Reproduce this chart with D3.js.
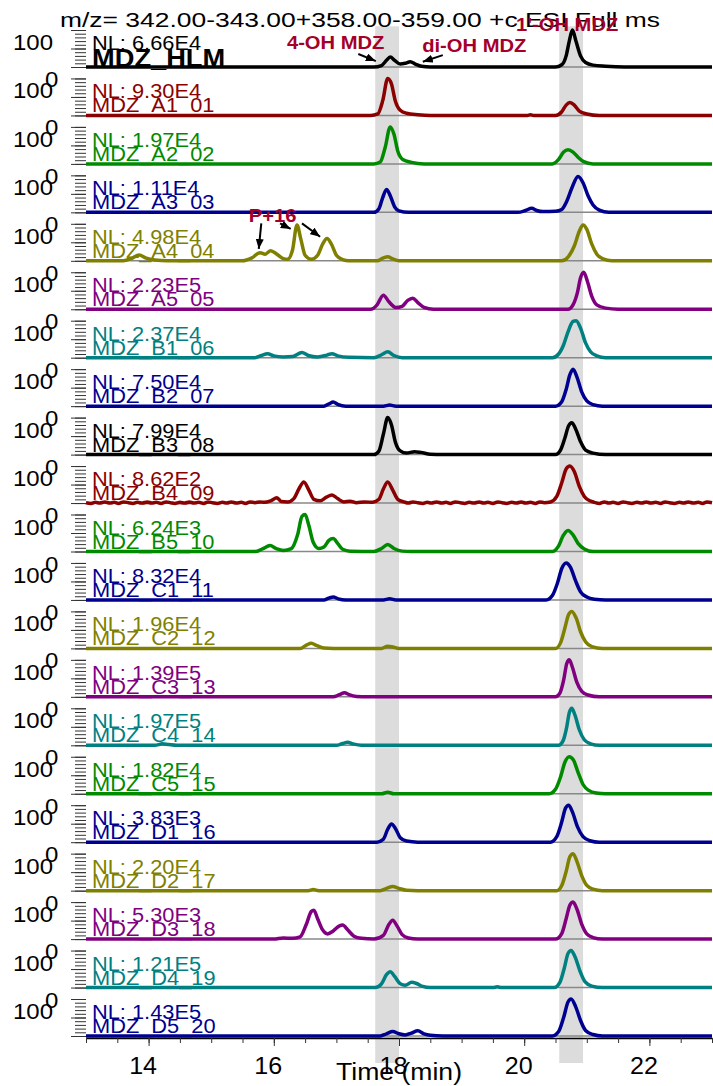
<!DOCTYPE html>
<html lang="en">
<head>
<meta charset="UTF-8">
<title>MDZ chromatograms</title>
<script src="https://d3js.org/d3.v7.min.js"></script>
<style>
  * { margin: 0; padding: 0; }
  body { background: #fff; }
  svg { display: block; font-family: "Liberation Sans", Arial, sans-serif; }
</style>
</head>
<body>
<script>
// ---- data ----
const samples = ["MDZ_HLM", "MDZ_A1_01", "MDZ_A2_02", "MDZ_A3_03", "MDZ_A4_04", "MDZ_A5_05",
  "MDZ_B1_06", "MDZ_B2_07", "MDZ_B3_08", "MDZ_B4_09", "MDZ_B5_10", "MDZ_C1_11", "MDZ_C2_12",
  "MDZ_C3_13", "MDZ_C4_14", "MDZ_C5_15", "MDZ_D1_16", "MDZ_D2_17", "MDZ_D3_18", "MDZ_D4_19", "MDZ_D5_20"];
const nlLabels = ["6.66E4", "9.30E4", "1.97E4", "1.11E4", "4.98E4", "2.23E5", "2.37E4", "7.50E4",
  "7.99E4", "8.62E2", "6.24E3", "8.32E4", "1.96E4", "1.39E5", "1.97E5", "1.82E4", "3.83E3",
  "2.20E4", "5.30E3", "1.21E5", "1.43E5"];
const timeLabels = [14, 16, 18, 20, 22];
const bands = [[17.62, 18.0], [20.56, 20.94]];

// [time (min), relative abundance %]
const traces = [
  [[13,0],[17.6,0],[17.72,4],[17.8,18],[17.86,27],[17.93,18],[18.02,8],[18.1,10],[18.18,14],[18.26,8],[18.36,2],[18.5,0],[20.5,0],[20.6,6],[20.67,30],[20.72,70],[20.77,100],[20.83,68],[20.9,30],[20.98,12],[21.1,5],[21.3,2],[21.6,0],[23,0]],
  [[13,0],[17.55,0],[17.66,4],[17.74,40],[17.82,100],[17.88,85],[17.94,40],[18.02,14],[18.12,6],[18.3,2],[18.5,0],[20.05,0],[20.1,2],[20.15,0],[20.5,0],[20.6,10],[20.67,28],[20.73,35],[20.8,28],[20.88,12],[21.0,4],[21.2,0],[23,0]],
  [[13,0],[17.6,0],[17.7,5],[17.78,45],[17.86,100],[17.92,80],[17.98,35],[18.06,12],[18.2,4],[18.4,0],[20.45,0],[20.55,12],[20.63,32],[20.7,38],[20.78,32],[20.86,18],[20.95,6],[21.1,0],[23,0]],
  [[13,0],[17.6,0],[17.68,10],[17.74,40],[17.8,62],[17.86,45],[17.93,15],[18.0,4],[18.15,0],[19.9,0],[20.02,5],[20.12,11],[20.2,5],[20.3,2],[20.5,3],[20.6,8],[20.68,30],[20.76,65],[20.86,97],[20.94,80],[21.02,45],[21.1,20],[21.2,6],[21.35,0],[23,0]],
  [[13,0],[13.6,0],[13.72,6],[13.85,16],[13.95,8],[14.1,2],[14.3,0],[15.5,0],[15.65,8],[15.78,22],[15.86,18],[15.95,27],[16.05,18],[16.15,6],[16.22,4],[16.3,30],[16.37,97],[16.43,60],[16.5,15],[16.6,4],[16.7,15],[16.78,45],[16.85,60],[16.92,45],[17.0,15],[17.1,3],[17.2,0],[17.65,0],[17.75,8],[17.82,11],[17.9,5],[18.0,0],[20.6,0],[20.7,10],[20.8,40],[20.88,80],[20.94,97],[21.0,85],[21.08,45],[21.16,18],[21.26,5],[21.4,0],[23,0]],
  [[13,0],[17.55,0],[17.65,12],[17.75,38],[17.84,20],[17.95,5],[18.05,8],[18.14,24],[18.22,30],[18.3,18],[18.4,5],[18.55,0],[20.7,0],[20.78,12],[20.85,45],[20.9,85],[20.95,100],[21.01,75],[21.08,35],[21.16,12],[21.3,3],[21.5,0],[23,0]],
  [[13,0],[15.7,0],[15.8,6],[15.9,11],[16.0,5],[16.15,2],[16.3,3],[16.45,14],[16.55,6],[16.7,2],[16.85,7],[16.93,11],[17.02,5],[17.2,1],[17.6,0],[17.72,8],[17.82,16],[17.92,6],[18.05,0],[20.45,0],[20.55,10],[20.63,35],[20.7,70],[20.78,98],[20.83,100],[20.9,80],[20.98,40],[21.06,16],[21.16,5],[21.3,0],[23,0]],
  [[13,0],[16.8,0],[16.88,6],[16.95,11],[17.02,5],[17.15,0],[17.75,0],[17.85,3],[17.95,0],[20.5,0],[20.6,12],[20.67,45],[20.73,85],[20.78,100],[20.84,80],[20.92,38],[21.0,14],[21.1,4],[21.25,0],[23,0]],
  [[13,0],[17.6,0],[17.68,10],[17.75,55],[17.82,100],[17.88,80],[17.94,35],[18.02,10],[18.12,4],[18.25,8],[18.35,6],[18.5,1],[18.7,0],[20.5,0],[20.58,12],[20.65,45],[20.71,78],[20.76,86],[20.82,70],[20.9,35],[20.98,12],[21.1,4],[21.3,0],[23,0]],
  [[13,1],[13.08,-1],[13.15,2],[13.22,0],[13.3,3],[13.38,0],[13.45,2],[13.52,-1],[13.6,3],[13.68,1],[13.75,-1],[13.82,2],[13.9,0],[13.98,3],[14.05,0],[14.12,2],[14.2,-1],[14.28,3],[14.35,1],[14.42,-1],[14.5,2],[14.58,0],[14.65,3],[14.72,0],[14.8,2],[14.88,-1],[14.95,3],[15.02,1],[15.1,-1],[15.18,2],[15.25,0],[15.32,3],[15.4,0],[15.48,2],[15.55,-1],[15.62,3],[15.7,1],[15.78,3],[15.85,2],[15.95,6],[16.05,14],[16.12,4],[16.22,3],[16.32,12],[16.4,38],[16.48,57],[16.56,35],[16.64,10],[16.74,6],[16.84,16],[16.93,22],[17.02,12],[17.12,3],[17.22,5],[17.32,1],[17.45,3],[17.58,2],[17.68,10],[17.75,38],[17.82,57],[17.9,35],[17.98,10],[18.08,3],[18.15,0],[18.22,3],[18.3,1],[18.38,-1],[18.45,2],[18.52,0],[18.6,3],[18.68,0],[18.75,2],[18.82,-1],[18.9,3],[18.98,1],[19.05,-1],[19.12,2],[19.2,0],[19.28,3],[19.35,0],[19.42,2],[19.5,-1],[19.58,3],[19.65,1],[19.72,-1],[19.8,2],[19.88,0],[19.95,3],[20.02,0],[20.1,2],[20.18,-1],[20.25,3],[20.32,1],[20.42,3],[20.52,18],[20.6,55],[20.67,92],[20.73,100],[20.8,85],[20.88,45],[20.96,18],[21.05,6],[21.12,2],[21.2,-1],[21.28,3],[21.35,0],[21.42,2],[21.5,-1],[21.58,3],[21.65,1],[21.72,-1],[21.8,2],[21.88,0],[21.95,3],[22.02,0],[22.1,2],[22.18,-1],[22.25,3],[22.32,1],[22.4,-1],[22.48,2],[22.55,0],[22.62,3],[22.7,0],[22.78,2],[22.85,-1],[22.92,3],[23,1]],
  [[13,0],[15.7,0],[15.82,7],[15.94,16],[16.04,8],[16.15,3],[16.28,8],[16.38,45],[16.45,95],[16.5,100],[16.56,70],[16.63,25],[16.72,8],[16.8,12],[16.88,30],[16.95,35],[17.02,22],[17.1,6],[17.22,1],[17.6,0],[17.72,8],[17.82,19],[17.92,8],[18.05,1],[18.2,0],[20.45,0],[20.55,15],[20.62,42],[20.7,57],[20.78,45],[20.86,22],[20.96,7],[21.1,0],[23,0]],
  [[13,0],[16.8,0],[16.88,5],[16.95,8],[17.03,3],[17.15,0],[17.75,0],[17.85,3],[17.95,0],[20.35,0],[20.45,12],[20.53,45],[20.6,85],[20.67,100],[20.74,88],[20.82,52],[20.9,22],[21.0,8],[21.12,2],[21.3,0],[23,0]],
  [[13,0],[16.42,0],[16.52,9],[16.6,14],[16.68,8],[16.8,1],[16.95,0],[17.72,0],[17.82,6],[17.9,4],[18.0,0],[20.5,0],[20.58,15],[20.65,55],[20.71,92],[20.76,100],[20.83,82],[20.9,45],[20.98,18],[21.08,5],[21.25,0],[23,0]],
  [[13,0],[16.95,0],[17.05,6],[17.13,11],[17.2,6],[17.32,1],[17.5,0],[20.5,0],[20.57,10],[20.63,45],[20.68,90],[20.72,100],[20.77,80],[20.84,40],[20.92,15],[21.02,5],[21.2,0],[23,0]],
  [[13,0],[14.1,0],[14.22,4],[14.32,2],[14.45,0],[17.0,0],[17.1,5],[17.18,8],[17.26,4],[17.4,0],[20.55,0],[20.62,12],[20.68,50],[20.72,88],[20.76,100],[20.81,82],[20.88,42],[20.96,15],[21.06,4],[21.2,0],[23,0]],
  [[13,0],[17.72,0],[17.82,4],[17.92,0],[20.4,0],[20.5,12],[20.58,45],[20.65,85],[20.72,100],[20.79,90],[20.86,58],[20.94,25],[21.03,9],[21.15,2],[21.3,0],[23,0]],
  [[13,0],[17.65,0],[17.75,8],[17.82,35],[17.88,49],[17.94,38],[18.02,12],[18.12,3],[18.3,0],[20.42,0],[20.52,15],[20.6,55],[20.66,92],[20.71,100],[20.77,82],[20.85,42],[20.94,15],[21.05,4],[21.2,0],[23,0]],
  [[13,0],[16.55,0],[16.63,3],[16.72,0],[17.7,0],[17.8,6],[17.9,11],[18.0,6],[18.12,1],[18.3,0],[20.52,0],[20.6,14],[20.67,52],[20.73,92],[20.78,100],[20.84,80],[20.92,40],[21.0,14],[21.1,4],[21.25,0],[23,0]],
  [[13,0],[16.0,0],[16.15,3],[16.3,2],[16.42,6],[16.52,40],[16.6,75],[16.64,78],[16.7,55],[16.78,25],[16.86,14],[16.95,22],[17.05,36],[17.1,38],[17.18,25],[17.28,8],[17.4,2],[17.6,0],[17.75,10],[17.84,40],[17.9,51],[17.97,35],[18.05,12],[18.15,3],[18.3,0],[20.5,0],[20.6,15],[20.67,55],[20.73,92],[20.78,100],[20.84,82],[20.92,40],[21.0,14],[21.1,4],[21.25,0],[23,0]],
  [[13,0],[17.62,0],[17.72,10],[17.8,35],[17.86,43],[17.93,30],[18.02,10],[18.1,6],[18.2,14],[18.28,11],[18.38,3],[18.5,0],[19.5,0],[19.57,2],[19.64,0],[20.48,0],[20.57,14],[20.64,52],[20.7,92],[20.75,100],[20.81,84],[20.89,45],[20.97,16],[21.08,4],[21.25,0],[23,0]],
  [[13,0],[17.7,0],[17.8,6],[17.9,12],[18.0,6],[18.1,3],[18.2,8],[18.3,14],[18.4,6],[18.5,2],[18.7,0],[20.45,0],[20.55,12],[20.63,50],[20.7,92],[20.75,100],[20.82,80],[20.9,42],[20.98,15],[21.1,4],[21.25,0],[23,0]]
];

// labels: panel index, time, abundance of the text baseline start
const noteTexts = ["4-OH MDZ", "di-OH MDZ", "1'-OH MDZ", "P+16"];
const notePanel = [0, 0, 0, 4];
const noteAt = [[16.21, 49], [18.37, 40], [19.87, 97], [15.6, 105]];
// arrows: panel, [t0, v0, t1, v1]
const arrowPanel = [0, 0, 4, 4, 4];
const arrowAt = [[17.35, 35, 17.63, 16], [18.70, 32, 18.38, 14],
  [15.80, 101, 15.76, 32], [16.10, 101, 16.27, 86], [16.45, 101, 16.74, 65]];

const palette = ["#000000", "#8b0000", "#008a00", "#000090", "#808000", "#800080", "#008080",
  "#000090", "#000000", "#8b0000", "#008a00", "#000090", "#808000", "#800080", "#008080",
  "#008a00", "#000090", "#808000", "#800080", "#008080", "#000090"];

// ---- layout ----
const W = 713, H = 1086;
const svg = d3.select("body").append("svg").attr("width", W).attr("height", H);

const x = d3.scaleLinear().domain([13, 23]).range([86, 712]);
const base = d3.scalePoint().domain(samples).range([67, 1036]);
const panelY = i => d3.scaleLinear().domain([0, 100]).range([base(samples[i]), base(samples[i]) - 37]);
const axisY = base(samples[samples.length - 1]) + 2;

// grey bands
svg.append("g").selectAll("rect").data(bands).join("rect")
  .attr("x", d => x(d[0])).attr("width", d => x(d[1]) - x(d[0]))
  .attr("y", panelY(0)(110)).attr("height", axisY + 25 - panelY(0)(110))
  .attr("fill", "#dcdcdc");

// panels
const panels = svg.append("g").selectAll("g").data(samples).join("g");

panels.append("line")
  .attr("x1", x(13)).attr("x2", x(23))
  .attr("y1", d => base(d)).attr("y2", d => base(d))
  .attr("stroke", "#888").attr("stroke-width", 1.5);

panels.each(function (d, i) {
  const g = d3.select(this);
  const y = panelY(i);
  const minor = g.append("g").attr("transform", "translate(86,0)")
    .call(d3.axisLeft(y).tickValues(d3.range(0, 101, 10)).tickSize(11).tickFormat(""));
  const major = g.append("g").attr("transform", "translate(86,0)")
    .call(d3.axisLeft(y).tickValues([0, 50, 100]).tickSize(15).tickFormat(""));
  [minor, major].forEach(a => {
    a.select(".domain").remove();
    a.selectAll("line").attr("stroke", "#333").attr("stroke-width", 1);
  });
  g.append("text").attr("class", "wide").attr("x", 53).attr("y", y(100) + 20)
    .attr("text-anchor", "end").attr("font-size", 22).text("100");
  if (i < samples.length - 1) {
    g.append("text").attr("class", "wide").attr("x", 45).attr("y", y(0) + 20)
      .attr("font-size", 22).text("0");
  }
  g.append("text").attr("class", "wide").attr("x", 92).attr("y", y(0) - 17)
    .attr("font-size", 20).attr("fill", palette[i]).text("NL: " + nlLabels[i]);
  g.append("text").attr("class", "wide").attr("x", 92).attr("y", i === 0 ? y(0) : y(0) - 3)
    .attr("font-size", i === 0 ? 25 : 20).attr("font-weight", i === 0 ? "bold" : "normal")
    .attr("fill", palette[i]).text(d);
});

// traces
const line = d3.line().curve(d3.curveMonotoneX);
panels.append("path")
  .attr("d", (d, i) => {
    const y = panelY(i);
    return line(traces[i].map(p => [x(p[0]), y(p[1])]));
  })
  .attr("fill", "none")
  .attr("stroke", (d, i) => palette[i])
  .attr("stroke-width", 3.5)
  .attr("stroke-linejoin", "round");

// bottom axis
const xMinor = svg.append("g").attr("transform", `translate(0,${axisY})`)
  .call(d3.axisBottom(x).tickValues(d3.range(13, 23.01, 0.5)).tickSize(5).tickFormat("").tickSizeOuter(0));
const xMajor = svg.append("g").attr("transform", `translate(0,${axisY})`)
  .call(d3.axisBottom(x).tickValues(timeLabels).tickSize(8).tickSizeOuter(0).tickPadding(12));
xMajor.select(".domain").remove();
xMinor.select(".domain").attr("stroke", "#000").attr("stroke-width", 1.5);
svg.selectAll(".tick line").attr("stroke", "#333");
xMajor.selectAll("text").attr("class", "wide").attr("font-size", 23)
  .attr("font-family", "Liberation Sans, Arial, sans-serif")
  .attr("fill", "#000").attr("dx", -6);

svg.append("text").attr("x", x(18)).attr("y", 1080).attr("text-anchor", "middle")
  .attr("font-size", 23).attr("textLength", 126).attr("lengthAdjust", "spacingAndGlyphs")
  .text("Time (min)");

// title
svg.append("text").attr("x", 60).attr("y", 27).attr("font-size", 20)
  .attr("textLength", 600).attr("lengthAdjust", "spacingAndGlyphs")
  .text("m/z= 342.00-343.00+358.00-359.00 +c ESI Full ms");

// annotations
svg.append("defs").append("marker").attr("id", "head")
  .attr("viewBox", "0 0 10 8").attr("refX", 10).attr("refY", 4)
  .attr("markerWidth", 10).attr("markerHeight", 8).attr("markerUnits", "userSpaceOnUse")
  .attr("orient", "auto")
  .append("path").attr("d", "M0,0L10,4L0,8z").attr("fill", "#000");

svg.append("g").selectAll("line").data(arrowAt).join("line")
  .attr("x1", d => x(d[0])).attr("y1", (d, i) => panelY(arrowPanel[i])(d[1]))
  .attr("x2", d => x(d[2])).attr("y2", (d, i) => panelY(arrowPanel[i])(d[3]))
  .attr("stroke", "#000").attr("stroke-width", 2).attr("marker-end", "url(#head)");

svg.append("g").selectAll("text").data(noteTexts).join("text")
  .attr("class", "wide")
  .attr("x", (d, i) => x(noteAt[i][0]))
  .attr("y", (d, i) => panelY(notePanel[i])(noteAt[i][1]))
  .attr("font-size", 18.5).attr("font-weight", "bold").attr("fill", "#a5002a")
  .text(d => d);

// the original lettering is a little wider than the font
svg.selectAll("text.wide").each(function () {
  const len = this.getComputedTextLength();
  d3.select(this).attr("textLength", len * 1.09).attr("lengthAdjust", "spacingAndGlyphs");
});
</script>
</body>
</html>
